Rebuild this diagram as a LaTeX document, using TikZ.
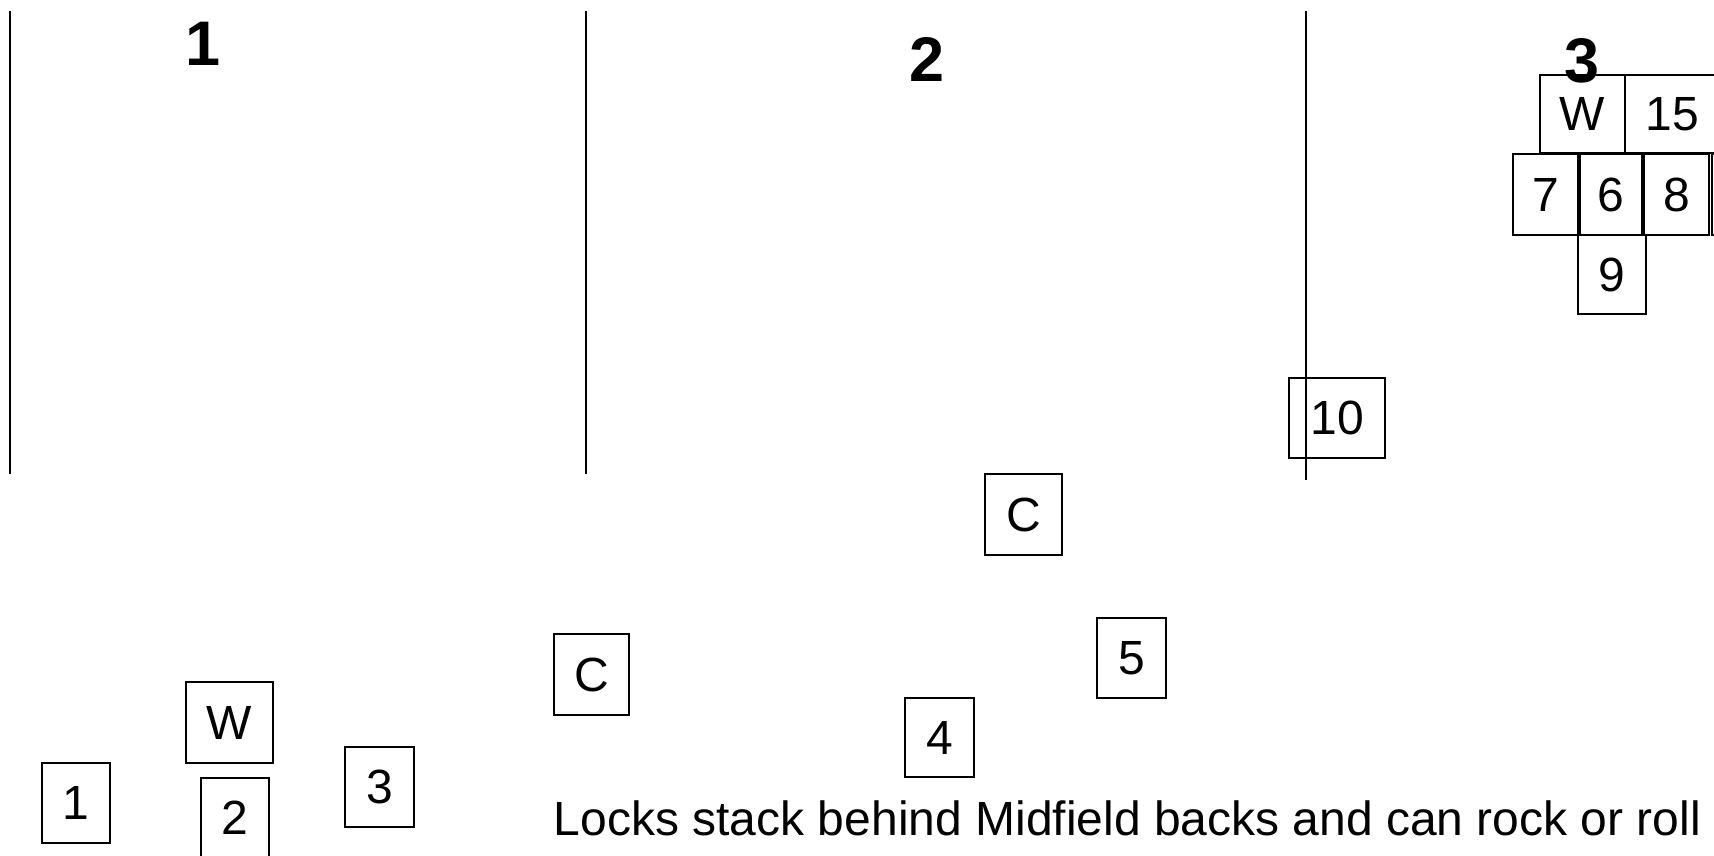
\documentclass[tikz,border=0pt]{standalone}
\usepackage{fontspec}
\setmainfont{Liberation Sans}
\tikzset{
  pbox/.style 2 args={draw, line width=1pt, inner sep=0pt, outer sep=0pt,
    minimum width=#1*0.5pt, minimum height=#2*0.5pt,
    font=\fontsize{24}{28}\selectfont},
  zonelbl/.style={inner sep=0pt, font=\bfseries\fontsize{31.5}{36}\selectfont},
  zoneline/.style={line width=1.3pt},
  caption/.style={inner sep=0pt, anchor=base west, font=\fontsize{24}{28}\selectfont}
}
\begin{document}
\begin{tikzpicture}[x=0.5pt, y=-0.5pt]
\useasboundingbox (0,0) rectangle (1714,856);
\clip (0,0) rectangle (1714,856);
% zone dividing lines
\coordinate (l1t) at (10,11);  \coordinate (l1b) at (10,474);
\coordinate (l2t) at (586,11); \coordinate (l2b) at (586,474);
\coordinate (l3t) at (1306,11); \coordinate (l3b) at (1306,480);
\draw[zoneline] (l1t) -- (l1b);
\draw[zoneline] (l2t) -- (l2b);
\draw[zoneline] (l3t) -- (l3b);
% players
\node[pbox={87}{81}] (bW) at (229.5,722.5) {W};
\node[pbox={68}{80}] (b1) at (76,803) {1};
\node[pbox={68}{80}] (b2) at (235,818) {2};
\node[pbox={69}{80}] (b3) at (379.5,787) {3};
\node[pbox={75}{81}] (cl) at (591.5,674.5) {C};
\node[pbox={77}{81}] (cu) at (1023.5,514.5) {C};
\node[pbox={69}{80}] (b5) at (1131.5,658) {5};
\node[pbox={69}{79}] (b4) at (939.5,737.5) {4};
\node[pbox={96}{80}] (b10) at (1337,418) {10};
\node[pbox={85}{78}] (tW) at (1582.5,114) {W};
\node[pbox={95}{78}] (b15) at (1672.5,114) {15};
\node[pbox={65}{81}] (b7) at (1545.5,194.5) {7};
\node[pbox={62}{81}] (b6) at (1611,194.5) {6};
\node[pbox={65}{81}] (b8) at (1676.5,194.5) {8};
\node[pbox={68}{81}] (bx) at (1746,194.5) {};
\node[pbox={68}{79}] (b9) at (1612,274.5) {9};
% zone labels
\node[zonelbl] (z1) at (203,44) {1};
\node[zonelbl] (z2) at (927,60) {2};
\node[zonelbl] (z3) at (1582,61) {3};
% caption
\node[caption] (cap) at (553.5,835) {Locks stack behind Midfield backs and can rock or roll};
\end{tikzpicture}
\end{document}
